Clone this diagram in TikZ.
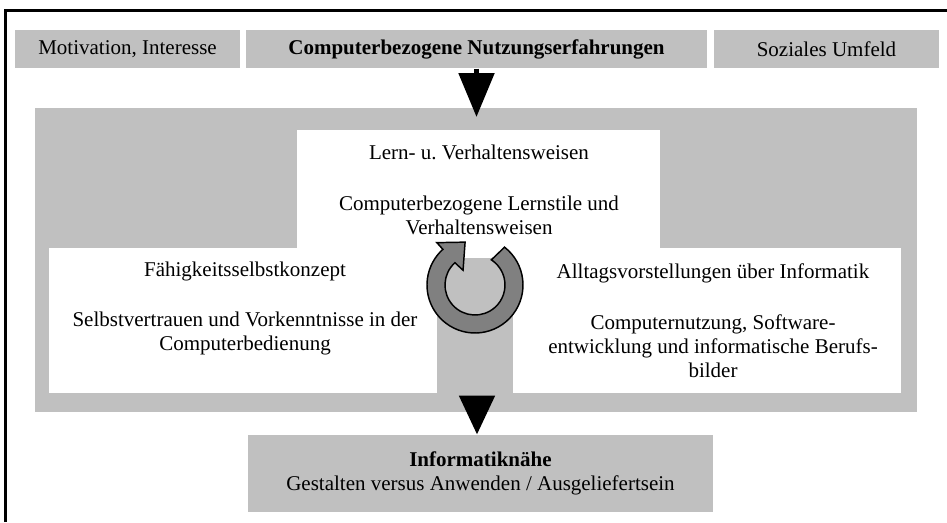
\documentclass[tikz,border=0pt]{standalone}
\usepackage{fontspec}
\setmainfont{Liberation Serif}
\usetikzlibrary{arrows.meta}

\definecolor{boxgrau}{RGB}{192,192,192}
\definecolor{ringgrau}{RGB}{128,128,128}

\tikzset{every picture/.style={line width=0.75pt}}
\tikzset{
  graubox/.style={fill=boxgrau, draw=none, inner sep=0pt},
  weissbox/.style={fill=white, draw=none, inner sep=0pt},
  txt/.style={align=center, inner sep=0pt, font=\fontsize{15.75}{18}\selectfont\frenchspacing},
  fluss/.style={line width=4pt, -{Triangle[width=26.25pt,length=33pt]}},
  flussb/.style={line width=4pt, -{Triangle[width=26.25pt,length=29.25pt]}},
  ring/.style={fill=ringgrau, draw=black, line width=1.1pt, line join=miter},
}

\begin{document}
\begin{tikzpicture}[x=0.75pt,y=0.75pt,yscale=-1,xscale=1]
\useasboundingbox (0,0) rectangle (947,522);

%Frame
\draw [line width=2.25pt] (5.5,522) -- (5.5,10) -- (947,10) ;

%Top row
\node [graubox, txt, minimum width=168.75pt, minimum height=28.5pt] (motiv) at (127.5,49) {Motivation, Interesse};
\node [graubox, txt, minimum width=345.75pt, minimum height=28.5pt] (nutzung) at (476.5,49) {\bfseries Computerbezogene Nutzungserfahrungen};
\node [graubox, txt, minimum width=168.75pt, minimum height=28.5pt] (sozial) at (826.5,49) {Soziales Umfeld};

%Panel with white boxes
\node [graubox, minimum width=661.5pt, minimum height=228pt] (panel) at (476,260) {};
\node [weissbox, minimum width=272.25pt, minimum height=96pt] (lern) at (478.5,194) {};
\node [weissbox, minimum width=291pt, minimum height=108.75pt] (faehig) at (243,320.5) {};
\node [weissbox, minimum width=291pt, minimum height=108.75pt] (alltag) at (707,320.5) {};

%Texts
\node [txt] (lerntxt) at (479,190) {Lern- u. Verhaltensweisen\\[20pt]Computerbezogene Lernstile und\\Verhaltensweisen};
\node [txt] (faehigtxt) at (245,308.5) {F\"ahigkeitsselbstkonzept\\[20pt]Selbstvertrauen und Vorkenntnisse in der\\Computerbedienung};
\node [txt] (alltagtxt) at (713,320.5) {Alltagsvorstellungen \"uber Informatik\\[20pt]Computernutzung, Software-\\entwicklung und informatische Berufs-\\bilder};

%Cycle arrow
\begin{scope}[shift={(475,285)}]
\draw [ring] (-52:48) arc [start angle=-52, end angle=228, radius=48] -- (228:57) -- (257:44) -- (231:19) -- (228:30) arc [start angle=228, end angle=-57, radius=30] -- cycle ;
\end{scope}

%Bottom box
\node [graubox, txt, minimum width=348.75pt, minimum height=57.75pt] (ziel) at (480.5,473.5) {\bfseries Informatikn\"ahe\\Gestalten versus Anwenden / Ausgeliefertsein};

%Arrows
\coordinate (spitze1) at (476.5,117);
\draw [fluss] (nutzung.south) -- (spitze1) ;
\coordinate (start2) at (477,398);
\draw [flussb] (start2) -- (start2 |- ziel.north) ;

\end{tikzpicture}
\end{document}
